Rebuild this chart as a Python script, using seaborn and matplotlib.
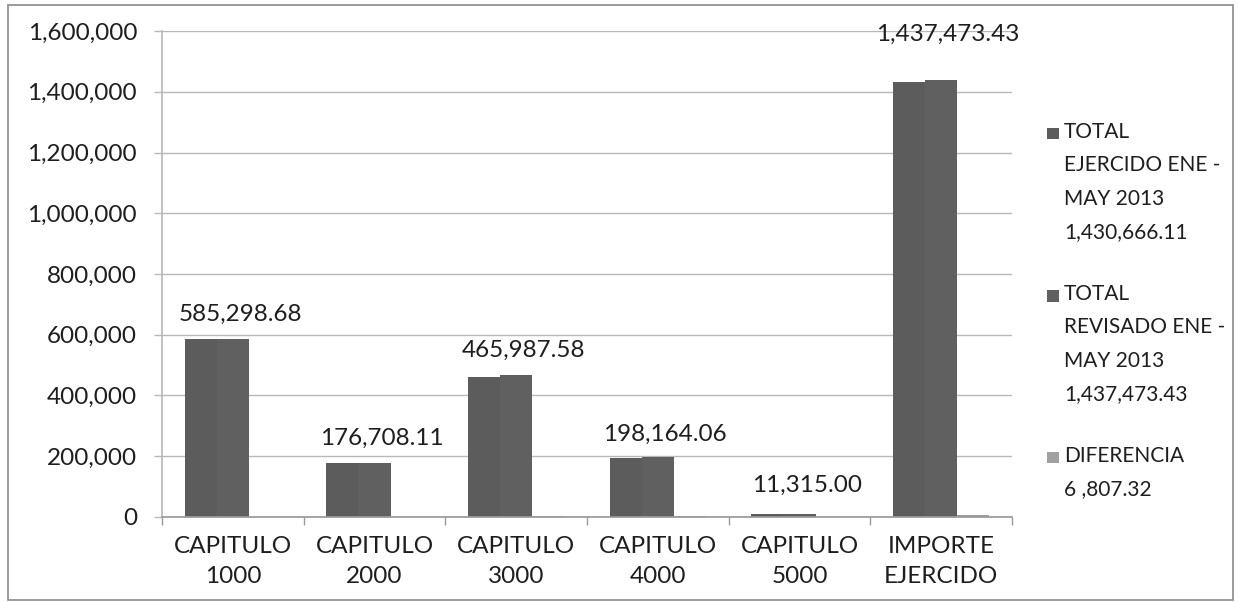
import matplotlib
matplotlib.use("Agg")
import matplotlib.pyplot as plt
import numpy as np
import pandas as pd
import seaborn as sns
from matplotlib.patches import Patch, Rectangle
from matplotlib.legend_handler import HandlerPatch
from matplotlib.ticker import FuncFormatter, FixedLocator

# Data
categorias = ["CAPITULO\n1000", "CAPITULO\n2000", "CAPITULO\n3000",
              "CAPITULO\n4000", "CAPITULO\n5000", "IMPORTE\nEJERCIDO"]
ejercido = [585298.68, 176708.11, 462487.58, 194856.74, 11315.00, 1430666.11]
revisado = [585298.68, 176708.11, 465987.58, 198164.06, 11315.00, 1437473.43]
diferencia = [0.00, 0.00, 3500.00, 3307.32, 0.00, 6807.32]
series = ["TOTAL\nEJERCIDO ENE -\nMAY 2013\n1,430,666.11",
          "TOTAL\nREVISADO ENE -\nMAY 2013\n1,437,473.43",
          "DIFERENCIA\n6 ,807.32"]
etiquetas = ["585,298.68", "176,708.11", "465,987.58",
             "198,164.06", "11,315.00", "1,437,473.43"]

colores = ["#5c5c5c", "#606060", "#a0a0a0"]
grid_col = "#b8b8b8"
txt_col = "#1e1e1e"
fs = 17.5
fs_leg = 15

df = pd.DataFrame({
    "categoria": categorias * 3,
    "serie": [series[0]] * 6 + [series[1]] * 6 + [series[2]] * 6,
    "valor": ejercido + revisado + diferencia,
})

sns.set_theme(style="white")
plt.rcParams["font.family"] = ["Lato", "DejaVu Sans"]

fig = plt.figure(figsize=(12.38, 6.02), dpi=100)
ax = fig.add_axes([0.1309, 0.1412, 0.8174 - 0.1309, 0.9485 - 0.1412])

sns.barplot(data=df, x="categoria", y="valor", hue="serie",
            palette=colores, width=0.68, saturation=1, errorbar=None,
            legend=False, linewidth=0, ax=ax)

ax.set_ylim(0, 1600000)
ax.set_xlim(-0.5, 5.5)
ax.yaxis.set_major_locator(FixedLocator(np.arange(0, 1600001, 200000)))
ax.yaxis.set_major_formatter(FuncFormatter(lambda v, p: f"{v:,.0f}"))
ax.grid(axis="y", color=grid_col, linewidth=1)
ax.set_axisbelow(True)
ax.set_xlabel("")
ax.set_ylabel("")

for s in ["top", "right"]:
    ax.spines[s].set_visible(False)
ax.spines["left"].set_color(grid_col)
ax.spines["bottom"].set_color("#9a9a9a")

ax.tick_params(axis="y", length=6, color=grid_col, width=1, pad=12,
               labelsize=fs, labelcolor=txt_col, left=True)
ax.tick_params(axis="x", which="major", length=0, pad=14,
               labelsize=fs, labelcolor=txt_col)
ax.xaxis.set_minor_locator(FixedLocator(np.arange(-0.5, 6, 1)))
ax.tick_params(axis="x", which="minor", length=6, color="#9a9a9a",
               width=1, bottom=True)
for t in ax.get_xticklabels():
    t.set_linespacing(1.5)

# value labels above the revisado bars
desplaz = [18, 18, 18, 16, 20, 33]
for i, (v, lab) in enumerate(zip(revisado, etiquetas)):
    ax.annotate(lab, (i + 0.05, v), xytext=(0, desplaz[i]),
                textcoords="offset points", ha="center", va="center",
                fontsize=fs, color=txt_col)

# legend with marker next to the first line of each entry
n_lineas = [s.count("\n") + 1 for s in series]
ls_leg = 1.83


def make_handler(n):
    def patch_func(legend, orig_handle, xdescent, ydescent, width, height, fontsize):
        side = 0.55 * fontsize
        shift = (n - 1) / 2 * fontsize * 0.855 * ls_leg
        return Rectangle((width - side - xdescent, height / 2 - side / 2 - ydescent + shift),
                         side, side)
    return HandlerPatch(patch_func=patch_func)


handles = [Patch(facecolor=c, edgecolor="none", label=s) for c, s in zip(colores, series)]
leg = ax.legend(handles=handles,
                handler_map={h: make_handler(n) for h, n in zip(handles, n_lineas)},
                loc="upper left", bbox_to_anchor=(1.028, 0.83), frameon=False,
                fontsize=fs_leg, labelspacing=2.03, handlelength=0.7,
                handletextpad=0.25, borderaxespad=0)
for t in leg.get_texts():
    t.set_linespacing(ls_leg)
    t.set_color(txt_col)

fig.add_artist(Rectangle((0.0065, 0.003), 0.9895, 0.989, transform=fig.transFigure,
                         fill=False, edgecolor="#8a8a8a", linewidth=1.2))

fig.savefig("out.png", dpi=100)
